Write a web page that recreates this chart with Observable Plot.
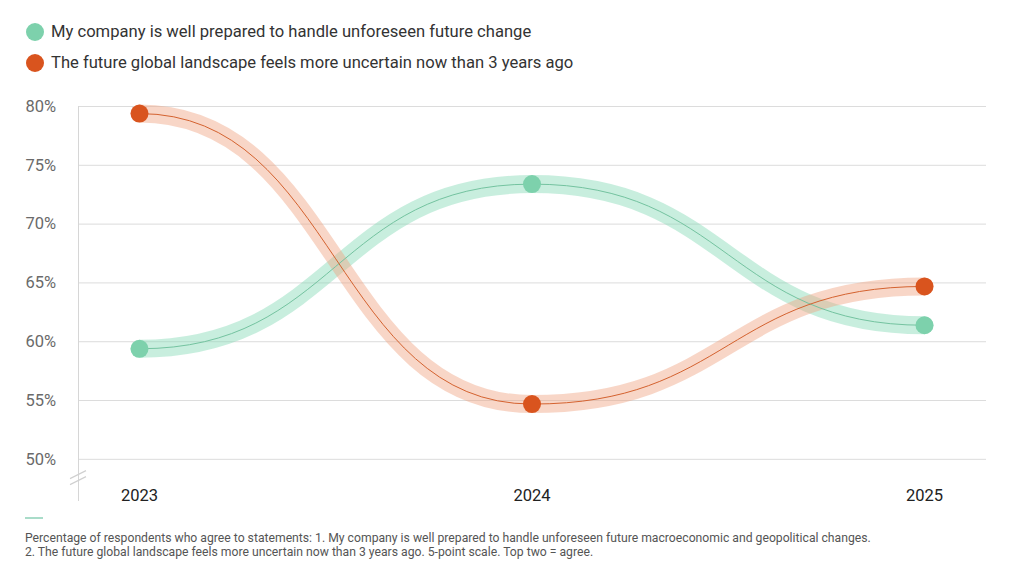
<!DOCTYPE html>
<html>
<head>
<meta charset="utf-8">
<script src="https://cdn.jsdelivr.net/npm/d3@7"></script>
<script src="https://cdn.jsdelivr.net/npm/@observablehq/plot@0.6"></script>
<style>
  html, body { margin: 0; padding: 0; background: #fff; }
  body { width: 1024px; height: 577px; font-family: Roboto, "Noto Sans", sans-serif; position: relative; overflow: hidden; }
  #legend { position: absolute; left: 0; top: 0; width: 1024px; height: 90px; }
  .item { position: absolute; left: 26px; display: flex; align-items: center; font-size: 16.6px; color: #333; }
  .dot { width: 18px; height: 18px; border-radius: 50%; margin-right: 7px; }
  #chart { position: absolute; left: 0; top: 90px; }
  #foot { position: absolute; left: 25px; top: 510px; width: 1000px; }
  #foot .bar { width: 18px; height: 1.5px; background: #a9dcc9; margin-top: 7px; }
  #foot p { margin: 12px 0 0 0; font-size: 12.2px; line-height: 14px; color: #555; }
</style>
</head>
<body>
<div id="legend"></div>
<div id="chart"></div>
<div id="foot">
  <div class="bar"></div>
  <p>Percentage of respondents who agree to statements: 1. My company is well prepared to handle unforeseen future macroeconomic and geopolitical changes.<br>2. The future global landscape feels more uncertain now than 3 years ago. 5-point scale. Top two = agree.</p>
</div>
<script>
const years = [2023, 2024, 2025];
const seriesNames = [
  "My company is well prepared to handle unforeseen future change",
  "The future global landscape feels more uncertain now than 3 years ago"
];
const preparedValues = [59.4, 73.4, 61.4];
const uncertainValues = [79.4, 54.7, 64.7];
const yTicks = [50, 55, 60, 65, 70, 75, 80];
const dotColors = ["#7dd1ac", "#d9541e"];
const bandColors = ["#86d9b5", "#efa583"];
const lineColors = ["#74c3a0", "#d4622f"];

const data = [];
years.forEach((yr, i) => {
  data.push({series: seriesNames[0], year: yr, value: preparedValues[i]});
  data.push({series: seriesNames[1], year: yr, value: uncertainValues[i]});
});

// legend
const legend = document.getElementById("legend");
seriesNames.forEach((name, i) => {
  const div = document.createElement("div");
  div.className = "item";
  div.style.top = (i === 0 ? 22 : 53) + "px";
  div.innerHTML = `<span class="dot" style="background:${dotColors[i]}"></span><span>${name}</span>`;
  legend.appendChild(div);
});

const color = {domain: seriesNames, range: dotColors};

const breakMark = (index, scales, values, dims) => {
  const g = d3.create("svg:g").attr("stroke", "#d0d0d0").attr("stroke-width", 1.2);
  const x0 = dims.marginLeft;
  const yc = scales.y(48.4);
  [-3, 3].forEach(off => {
    g.append("line")
      .attr("x1", x0 - 8).attr("y1", yc + off + 4)
      .attr("x2", x0 + 8).attr("y2", yc + off - 4);
  });
  return g.node();
};

const chart = Plot.plot({
  width: 1024,
  height: 422,
  marginTop: 16,
  marginLeft: 78,
  marginRight: 38,
  marginBottom: 12,
  x: {domain: [2023, 2025], insetLeft: 61, insetRight: 62, axis: null},
  y: {domain: [46.5, 80], axis: null},
  style: {fontFamily: "Roboto, 'Noto Sans', sans-serif", background: "#fff"},
  marks: [
    Plot.ruleY(yTicks, {stroke: "#dcdcdc", strokeWidth: 1}),
    Plot.frame({anchor: "left", stroke: "#d6d6d6", strokeWidth: 1}),
    breakMark,
    Plot.text(yTicks, {y: d => d, text: d => d + "%", frameAnchor: "left", dx: -53, textAnchor: "start", fontSize: 16.5, fill: "#6a6a6a"}),
    Plot.text(years, {x: d => d, text: d => String(d), frameAnchor: "bottom", dy: -5, lineAnchor: "middle", fontSize: 16.5, fill: "#222"}),
    ...seriesNames.map((name, i) => Plot.line(data.filter(d => d.series === name), {
      x: "year", y: "value", curve: "bump-x", stroke: bandColors[i], strokeOpacity: 0.45, strokeWidth: 18, strokeLinecap: "round"
    })),
    ...seriesNames.map((name, i) => Plot.line(data.filter(d => d.series === name), {
      x: "year", y: "value", curve: "bump-x", stroke: lineColors[i], strokeWidth: 1
    })),
    Plot.dot(data, {x: "year", y: "value", r: 9, fill: "series", stroke: "none"})
  ],
  color
});
document.getElementById("chart").appendChild(chart);
</script>
</body>
</html>
